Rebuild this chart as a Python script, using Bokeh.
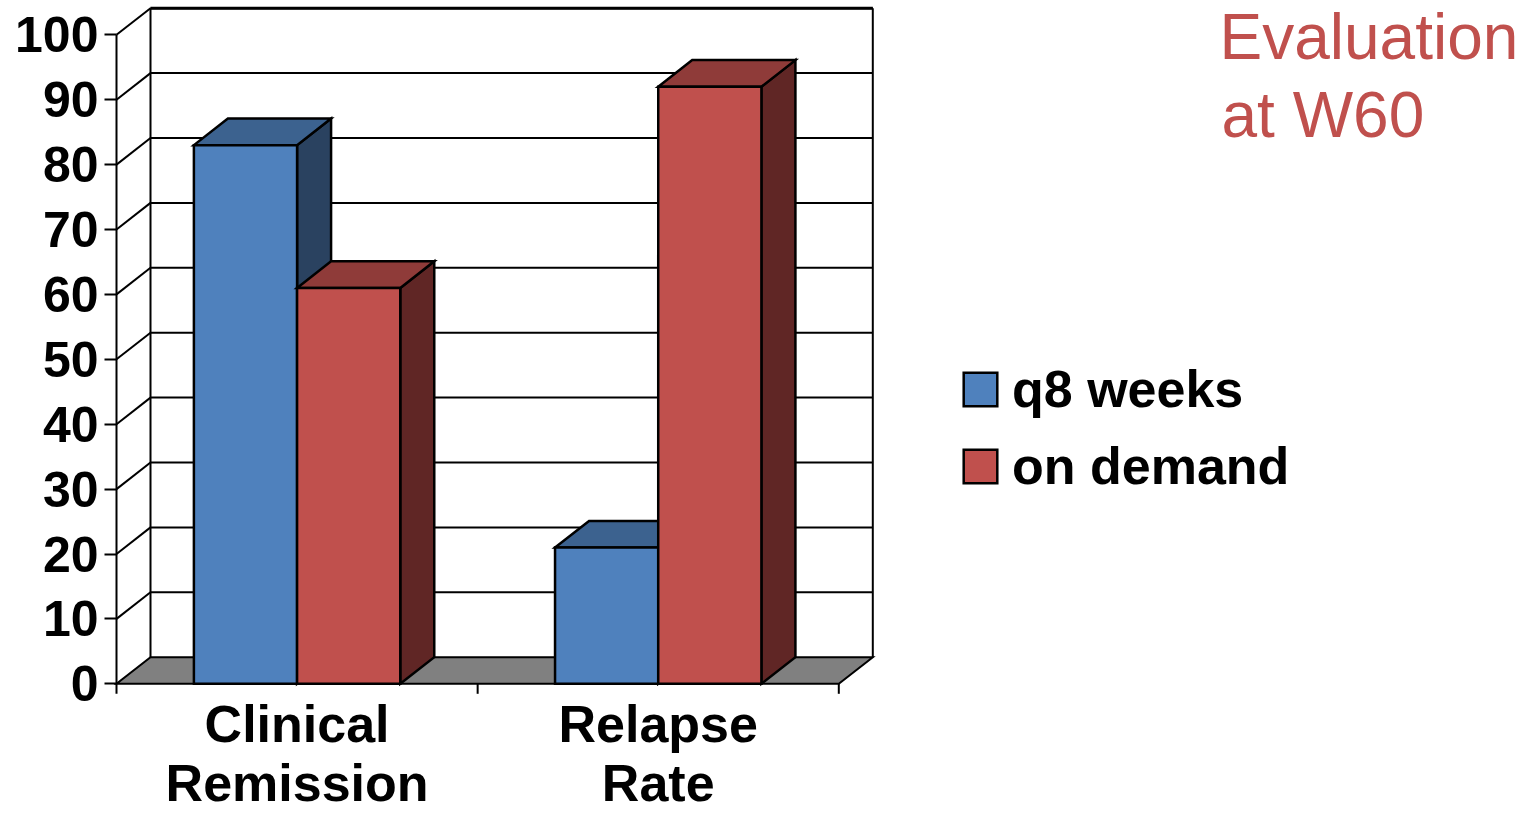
from bokeh.plotting import figure
from bokeh.models import Range1d, FixedTicker, Legend, LegendItem, Label
from bokeh.embed import file_html
from bokeh.resources import INLINE
from bokeh.core.properties import value

# ---------------- data ----------------
categories = ["Clinical\nRemission", "Relapse\nRate"]
series_names = ["q8 weeks", "on demand"]
q8_weeks = [83, 21]
on_demand = [61, 92]
y_ticks = [0, 10, 20, 30, 40, 50, 60, 70, 80, 90, 100]
y_max = 100
title_lines = ["Evaluation", "at W60"]

# ---------------- styles / layout ----------------
FONT = "Liberation Sans"
W, H = 1520, 813
LEFT = 108                # left border (axis panel)
FRAME_PAD_PX = 8          # frame starts this many px left of the front axis
PX_Y = 6.49               # px per value unit
ZERO_FROM_TOP = 683.3     # px of value 0 from the canvas top
PX_X = 361.15             # px per category
DEPTH_X_PX, DEPTH_Y_PX = 34.0, 26.6
GAP = 1.5                 # gap width (fraction of bar width)
TICK_PX = 10

front_colors = ["#4F81BD", "#C0504D"]
top_colors = ["#3C628F", "#8F3B39"]
side_colors = ["#2A4260", "#602625"]
floor_color = "#808080"
title_color = "#C0504D"

y_end = ZERO_FROM_TOP / PX_Y
y_start = -(H - ZERO_FROM_TOP) / PX_Y
x_start = -FRAME_PAD_PX / PX_X
x_end = x_start + (W - LEFT) / PX_X
DX = DEPTH_X_PX / PX_X
DY = DEPTH_Y_PX / PX_Y
n_cat = len(categories)
series = [q8_weeks, on_demand]
BW = 1.0 / (len(series) + GAP)
OFF = GAP * BW / 2

p = figure(width=W, height=H, x_range=Range1d(x_start, x_end),
           y_range=Range1d(y_start, y_end), output_backend="svg",
           toolbar_location=None, min_border_left=LEFT, min_border_right=0,
           min_border_top=0, min_border_bottom=0, x_axis_location=None,
           y_axis_location="left", outline_line_color=None)
p.grid.visible = False
p.background_fill_color = "white"
p.border_fill_color = "white"

# y axis
ax = p.yaxis[0]
ax.ticker = FixedTicker(ticks=y_ticks)
ax.axis_line_color = None
ax.major_tick_line_width = 2
ax.major_tick_in = FRAME_PAD_PX
ax.major_tick_out = 4
ax.minor_tick_line_color = None
ax.major_label_standoff = 6
ax.major_label_text_font = FONT
ax.major_label_text_font_style = "bold"
ax.major_label_text_font_size = "50px"
ax.major_label_text_color = "black"

LINE = dict(line_color="black", line_width=2)

# back wall gridlines and left wall diagonals
grid_vals = [v for v in y_ticks if v > 0]
p.multi_line(xs=[[DX, n_cat + DX] for v in grid_vals],
             ys=[[v + DY, v + DY] for v in grid_vals], **LINE)
p.multi_line(xs=[[0, DX] for v in grid_vals],
             ys=[[v, v + DY] for v in grid_vals], **LINE)
# wall vertical edges
p.multi_line(xs=[[DX, DX], [n_cat + DX, n_cat + DX]],
             ys=[[DY, y_max + DY], [DY, y_max + DY]], **LINE)
p.line(x=[DX, n_cat + DX], y=[y_max + DY, y_max + DY], line_color="black", line_width=3)

# floor
p.patch(x=[0, n_cat, n_cat + DX, DX], y=[0, 0, DY, DY], fill_color=floor_color,
        line_join="miter", **LINE)

# bars
fronts = []
for i, vals in enumerate(series):
    fx, fy, tx, ty, sx, sy = [], [], [], [], [], []
    for c, v in enumerate(vals):
        x0 = c + OFF + i * BW
        x1 = x0 + BW
        fx.append([x0, x1, x1, x0]); fy.append([0, 0, v, v])
        tx.append([x0, x1, x1 + DX, x0 + DX]); ty.append([v, v, v + DY, v + DY])
        sx.append([x1, x1 + DX, x1 + DX, x1]); sy.append([0, DY, v + DY, v])
    p.patches(xs=sx, ys=sy, fill_color=side_colors[i], line_color="black",
              line_width=2.5, line_join="miter")
    p.patches(xs=tx, ys=ty, fill_color=top_colors[i], line_color="black",
              line_width=2.5, line_join="miter")
    r = p.patches(xs=fx, ys=fy, fill_color=front_colors[i], line_color="black",
                  line_width=2.5, line_join="miter")
    fronts.append(r)

# front axis line and category ticks
p.line(x=[0, 0], y=[0, y_max], **LINE)
p.multi_line(xs=[[c, c] for c in range(n_cat + 1)],
             ys=[[0, -TICK_PX / PX_Y] for c in range(n_cat + 1)], **LINE)

# category labels (offsets in px below the zero line, to the text middle)
line_offsets = [40, 99]
centers = [c + 0.5 for c in range(n_cat)]
for j, off in enumerate(line_offsets):
    p.text(x=centers, y=[0] * n_cat, text=[cat.split("\n")[j] for cat in categories],
           y_offset=off, text_align="center", text_baseline="middle",
           text_font=value(FONT), text_font_style="bold", text_font_size="52px",
           text_color="black")

# legend
legend = Legend(items=[LegendItem(label=n, renderers=[r]) for n, r in zip(series_names, fronts)],
                location=(851, 317), glyph_width=42, glyph_height=42, label_height=42,
                label_standoff=11, spacing=17, padding=0, margin=0,
                border_line_color=None, background_fill_alpha=0,
                label_text_font=FONT, label_text_font_style="bold",
                label_text_font_size="52px", label_text_color="black")
p.add_layout(legend)

# title
for txt, xs, ys in zip(title_lines, [1111, 1113], [776.6, 698.9]):
    p.add_layout(Label(x=xs, y=ys, x_units="screen", y_units="screen", text=txt,
                       text_font=FONT, text_font_size="64px", text_color=title_color,
                       text_baseline="middle", text_align="left"))

open("out.html", "w").write(file_html(p, INLINE))
